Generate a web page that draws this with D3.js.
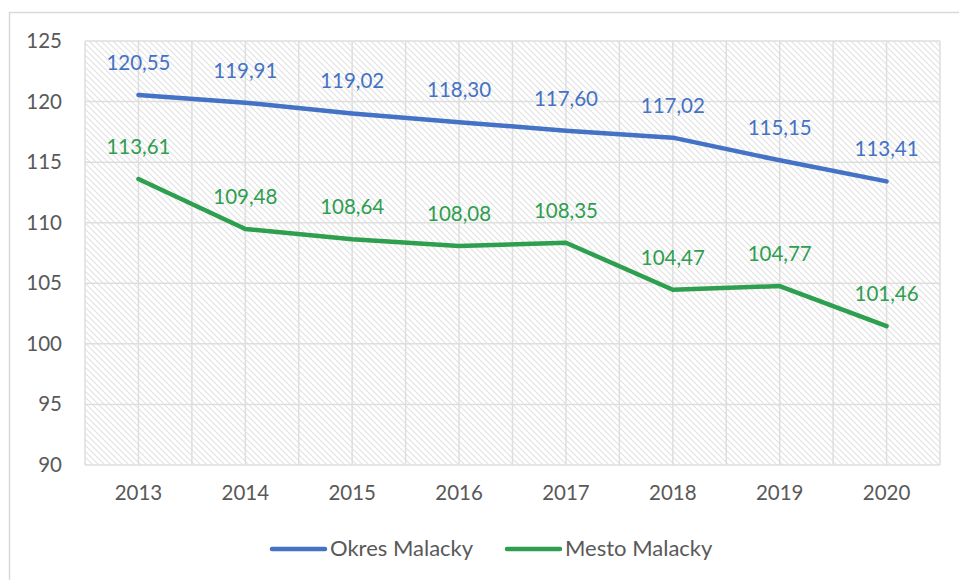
<!DOCTYPE html>
<html><head><meta charset="utf-8">
<script src="https://cdn.jsdelivr.net/npm/d3@7"></script>
<style>body{margin:0;background:#fff}svg{display:block}</style>
</head><body><svg id="c" width="959" height="580"></svg>
<script>
const years = ["2013","2014","2015","2016","2017","2018","2019","2020"];
const okres = [120.55,119.91,119.02,118.30,117.60,117.02,115.15,113.41];
const mesto = [113.61,109.48,108.64,108.08,108.35,104.47,104.77,101.46];
const yTicks = [90,95,100,105,110,115,120,125];
const seriesNames = ["Okres Malacky","Mesto Malacky"];
const colors = ["#4472C4","#2E9E4F"];

const svg = d3.select("#c");
const font = "Lato, 'Open Sans', sans-serif";
const W=959,H=580;
const m = {l:85, r:19, t:41, b:115};
const x0 = m.l, x1 = W-m.r, y0 = m.t, y1 = H-m.b;

// outer border
svg.append("rect").attr("x",9.5).attr("y",12.5).attr("width",W).attr("height",H)
  .attr("fill","#fff").attr("stroke","#d9d9d9").attr("stroke-width",1.5);

const defs = svg.append("defs");
const pat = defs.append("pattern").attr("id","hatch").attr("patternUnits","userSpaceOnUse")
  .attr("width",6).attr("height",6);
pat.append("rect").attr("width",6).attr("height",6).attr("fill","#fff");
pat.append("path").attr("d","M-1,-1 L7,7 M-1,5 L1,7 M5,-1 L7,1").attr("stroke","#e2e2e2").attr("stroke-width",1.1);

const x = d3.scaleBand().domain(years).range([x0,x1]);
const y = d3.scaleLinear().domain([90,125]).range([y1,y0]);
const cx = d => x(d)+x.bandwidth()/2;

svg.append("rect").attr("x",x0).attr("y",y0).attr("width",x1-x0).attr("height",y1-y0).attr("fill","url(#hatch)");

// grid
const g = svg.append("g");
yTicks.forEach(t=>{
  g.append("line").attr("x1",x0).attr("x2",x1).attr("y1",y(t)).attr("y2",y(t))
   .attr("stroke","#dedede").attr("stroke-width",1.5);
});
const vx = [x0];
years.forEach(yr=>{ vx.push(cx(yr)); vx.push(x(yr)+x.bandwidth()); });
vx.forEach(v=>{
  g.append("line").attr("x1",v).attr("x2",v).attr("y1",y0).attr("y2",y1)
   .attr("stroke","#dedede").attr("stroke-width",1.5);
});

// axes text
const yAxis = svg.append("g").attr("transform",`translate(${x0},0)`)
  .call(d3.axisLeft(y).tickValues(yTicks).tickSize(0).tickPadding(23));
yAxis.select(".domain").remove();
yAxis.selectAll("text").attr("font-family",font).attr("font-size",20.5).attr("fill","#595959");

const xAxis = svg.append("g").attr("transform",`translate(0,${y1})`)
  .call(d3.axisBottom(x).tickSize(0).tickPadding(20));
xAxis.select(".domain").remove();
xAxis.selectAll("text").attr("font-family",font).attr("font-size",20.5).attr("fill","#595959");

// lines
const line = d3.line().x((d,i)=>cx(years[i])).y(d=>y(d));
[okres,mesto].forEach((s,k)=>{
  svg.append("path").attr("d",line(s)).attr("fill","none").attr("stroke",colors[k])
    .attr("stroke-width",4.5).attr("stroke-linecap","round").attr("stroke-linejoin","round");
  svg.append("g").selectAll("text").data(s).join("text")
    .attr("x",(d,i)=>cx(years[i])).attr("y",d=>y(d)-25)
    .attr("text-anchor","middle").attr("font-family",font).attr("font-size",20.5)
    .attr("fill",colors[k]).text(d=>d.toFixed(2).replace(".",","));
});

// legend
const leg = [{x:272,c:colors[0],t:seriesNames[0]},{x:507,c:colors[1],t:seriesNames[1]}];
leg.forEach(l=>{
  svg.append("line").attr("x1",l.x).attr("x2",l.x+53).attr("y1",549).attr("y2",549)
    .attr("stroke",l.c).attr("stroke-width",4.5).attr("stroke-linecap","round");
  svg.append("text").attr("x",l.x+58).attr("y",556).attr("font-family",font).attr("font-size",22)
    .attr("fill","#595959").text(l.t);
});
</script></body></html>
